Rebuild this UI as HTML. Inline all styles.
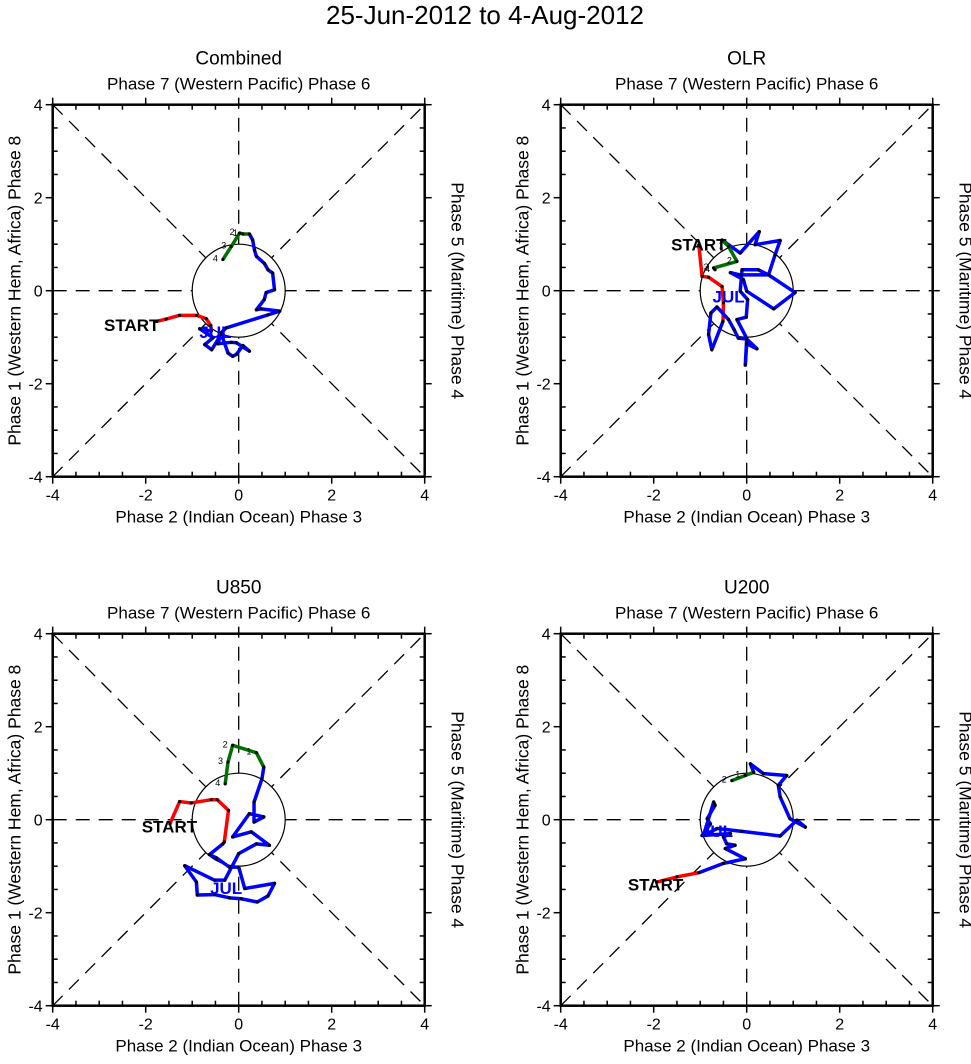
<!DOCTYPE html>
<html><head><meta charset="utf-8"><style>
body{margin:0;background:#fff;}
svg text{font-family:"Liberation Sans",Arial,sans-serif;}
</style></head><body>
<svg id="chart" width="971" height="1059" viewBox="0 0 971 1059" xmlns="http://www.w3.org/2000/svg">
<text x="485" y="24" font-size="26" text-anchor="middle">25-Jun-2012 to 4-Aug-2012</text>
</svg>
<script>
const panelTitles = ["Combined","OLR","U850","U200"];
const tickLabels = ["-4","-2","0","2","4"];
const tickValues = [-4,-2,0,2,4];
// Combined
const combRed = [[-1.77,-0.66],[-1.56,-0.61],[-1.27,-0.53],[-0.91,-0.53],[-0.70,-0.60],[-0.60,-0.75],[-0.59,-0.87]];
const combBlue = [[-0.59,-0.87],[-0.84,-0.82],[-0.55,-1.01],[-0.73,-1.16],[-0.58,-1.27],[-0.38,-0.94],[-0.45,-1.14],[-0.16,-1.11],[-0.05,-1.12],[0.23,-1.30],[0.09,-1.18],[-0.05,-1.37],[-0.13,-1.41],[-0.23,-1.34],[-0.38,-0.91],[-0.27,-0.80],[0.63,-0.52],[0.88,-0.44],[0.48,-0.39],[0.38,-0.41],[0.55,-0.19],[0.59,-0.04],[0.77,0.02],[0.73,0.38],[0.63,0.45],[0.55,0.59],[0.38,0.74],[0.34,0.87],[0.30,1.09],[0.23,1.22]];
const combGreen = [[0.23,1.22],[0.09,1.22],[0.02,1.24],[-0.16,0.95],[-0.34,0.67]];
// OLR
const olrRed = [[-1.03,0.99],[-0.96,0.31],[-0.82,0.29],[-0.53,0.09],[-0.50,-0.26],[-0.51,-0.66]];
const olrBlue = [[-0.51,-0.66],[-0.75,-1.27],[-0.82,-0.94],[-0.77,-0.48],[-0.64,-0.35],[-0.39,-0.62],[-0.27,-0.84],[-0.18,-1.02],[0.00,-1.04],[0.22,-1.25],[0.00,-1.14],[-0.03,-1.60],[0.00,-1.02],[-0.21,-0.62],[-0.01,-0.57],[0.02,-0.19],[-0.14,-0.01],[-0.10,0.45],[0.25,0.45],[0.47,0.34],[1.04,-0.04],[0.58,-0.39],[0.00,-0.01],[-0.07,0.24],[-0.35,0.39],[-0.14,0.34],[0.47,0.34],[0.61,0.77],[0.72,1.08],[0.18,0.99],[0.27,1.27],[-0.14,0.81],[-0.53,1.09]];
const olrGreen = [[-0.53,1.09],[-0.39,0.95],[-0.21,0.63],[-0.71,0.49],[-0.68,0.45]];
// U850
const u850Red = [[-1.48,-0.09],[-1.27,0.39],[-1.02,0.36],[-0.59,0.43],[-0.46,0.43],[-0.22,0.20],[-0.31,-0.48],[-0.34,-0.52]];
const u850Blue = [[-0.34,-0.52],[-0.63,-0.75],[-0.48,-0.82],[-0.20,-1.02],[0.00,-1.02],[0.13,-1.48],[0.77,-1.37],[0.63,-1.64],[0.40,-1.77],[0.05,-1.70],[-0.20,-1.68],[-0.52,-1.61],[-0.89,-1.62],[-0.91,-1.34],[-1.16,-0.99],[-0.52,-1.30],[-0.30,-1.30],[0.00,-0.73],[0.38,-0.52],[0.66,-0.55],[0.27,-0.26],[-0.13,-0.37],[0.23,0.13],[0.54,0.06],[0.33,-0.05],[0.33,0.38],[0.50,0.88],[0.54,1.13]];
const u850Green = [[0.54,1.13],[0.38,1.44],[-0.13,1.60],[-0.23,1.24],[-0.29,0.77]];
// U200
const u200Red = [[-1.93,-1.34],[-1.50,-1.23],[-1.03,-1.14]];
const u200Blue = [[-1.03,-1.14],[-0.50,-0.94],[-0.03,-0.84],[-0.46,-0.62],[-0.25,-0.55],[-0.43,-0.52],[-0.50,-0.37],[-0.35,-0.30],[-0.96,-0.34],[-0.78,-0.09],[-0.85,0.02],[-0.68,0.31],[-0.71,0.38],[-0.93,-0.34],[-0.64,-0.19],[-0.10,-0.25],[0.72,-0.35],[1.08,-0.01],[1.26,-0.16],[0.93,0.02],[0.72,0.49],[0.68,0.74],[0.86,0.95],[0.36,0.99],[0.08,1.20],[0.15,1.02]];
const u200Green = [[0.15,1.02],[-0.03,0.95],[-0.32,0.84]];
const startPos = [[-2.3,-0.72],[-1.03,1.02],[-1.49,-0.12],[-1.96,-1.37]];
const julPos = [[-0.5,-0.87],[-0.39,-0.1],[-0.27,-1.45],[-0.64,-0.22]];

const series = [[combRed,combBlue,combGreen],[olrRed,olrBlue,olrGreen],[u850Red,u850Blue,u850Green],[u200Red,u200Blue,u200Green]];
const origins = [[52.7,104.7],[560.7,104.7],[52.7,633.7],[560.7,633.7]];
const W = 372, S = W/8;
const svg = document.getElementById('chart');
const NS = "http://www.w3.org/2000/svg";
function mk(tag, attrs, parent){const e=document.createElementNS(NS,tag);for(const k in attrs)e.setAttribute(k,attrs[k]);(parent||svg).appendChild(e);return e;}

series.forEach((ser, p) => {
  const [ox, oy] = origins[p];
  const sx = v => ox + (v + 4) * S;
  const sy = v => oy + (4 - v) * S;
  const g = mk('g', {});
  
  
  const t = mk('text', {x: ox + W/2, y: oy - 40, 'font-size': 19, 'text-anchor': 'middle'}, g);
  t.textContent = panelTitles[p];
  
  
  const t2 = mk('text', {x: ox + W/2, y: oy - 15, 'font-size': 17, 'text-anchor': 'middle'}, g);
  t2.textContent = 'Phase 7 (Western Pacific) Phase 6';
  
  
  const t3 = mk('text', {x: ox + W/2, y: oy + W + 46, 'font-size': 17, 'text-anchor': 'middle'}, g);
  t3.textContent = 'Phase 2 (Indian Ocean) Phase 3';
  
  
  const t4 = mk('text', {x: 0, y: 0, 'font-size': 17.5, 'text-anchor': 'middle', transform: `translate(${ox-32},${oy+W/2}) rotate(-90)`}, g);
  t4.textContent = 'Phase 1 (Western Hem, Africa) Phase 8';
  
  
  const t5 = mk('text', {x: 0, y: 0, 'font-size': 17.5, 'text-anchor': 'middle', transform: `translate(${ox+W+27},${oy+W/2}) rotate(90)`}, g);
  t5.textContent = 'Phase 5 (Maritime) Phase 4';
  
  
  const dash = {stroke: '#000', 'stroke-width': 1.3, 'stroke-dasharray': '14,9', fill: 'none'};
  [[-4,-4,4,4],[-4,4,4,-4],[-4,0,4,0],[0,-4,0,4]].forEach(l => {
    const ln = mk('line', Object.assign({x1: sx(l[0]), y1: sy(l[1]), x2: sx(l[2]), y2: sy(l[3])}, dash), g);
    
    
  });
  const c = mk('circle', {cx: sx(0), cy: sy(0), r: S, fill: '#fff', stroke: '#000', 'stroke-width': 1.2}, g);
  
  
  const fr = mk('rect', {x: ox, y: oy, width: W, height: W, fill: 'none', stroke: '#000', 'stroke-width': 2.5}, g);
  
  
  for (let v = -4; v <= 4; v += 0.5) {
    const major = Number.isInteger(v / 2);
    const L = major ? 7 : 5, d = major ? 1 : -1;
    const attrs = {stroke: '#000', 'stroke-width': 1.5};
    mk('line', Object.assign({x1: sx(v), y1: oy + W, x2: sx(v), y2: oy + W + d*L}, attrs), g);
    mk('line', Object.assign({x1: sx(v), y1: oy, x2: sx(v), y2: oy - d*L}, attrs), g);
    mk('line', Object.assign({x1: ox, y1: sy(v), x2: ox - d*L, y2: sy(v)}, attrs), g);
    mk('line', Object.assign({x1: ox + W, y1: sy(v), x2: ox + W + d*L, y2: sy(v)}, attrs), g);
  }
  tickValues.forEach((v, i) => {
    const a = mk('text', {x: sx(v), y: oy + W + 24, 'font-size': 16, 'text-anchor': 'middle'}, g);
    a.textContent = tickLabels[i];
    
    
    const b = mk('text', {x: ox - 10, y: sy(v) + 6, 'font-size': 16, 'text-anchor': 'end'}, g);
    b.textContent = tickLabels[i];
    
    
  });
  const colors = ['#ff0000', '#0000ff', '#007000'];
  const names = ['june-track', 'july-track', 'august-track'];
  ser.forEach((pts, k) => {
    const pl = mk('polyline', {points: pts.map(q => sx(q[0]) + ',' + sy(q[1])).join(' '), fill: 'none', stroke: colors[k], 'stroke-width': 3.5, 'stroke-linejoin': 'round'}, g);
    
    
    pts.forEach((q, j) => {
      const dt = mk('circle', {cx: sx(q[0]), cy: sy(q[1]), r: 1.6, fill: '#000'}, g);
      
      
    });
  });
  ser[2].forEach((q, j) => {
    if (j === 0) return;
    const lb = mk('text', {x: sx(q[0]) - 5, y: sy(q[1]) + 2, 'font-size': 9, 'text-anchor': 'end'}, g);
    lb.textContent = String(j);
    
    
  });
  const st = startPos[p];
  const s = mk('text', {x: sx(st[0]), y: sy(st[1]) + 7, 'font-size': 17, 'font-weight': 'bold', 'text-anchor': 'middle'}, g);
  s.textContent = 'START';
  
  
  const j0 = julPos[p];
  const jl = mk('text', {x: sx(j0[0]), y: sy(j0[1]) + 7, 'font-size': 17, 'font-weight': 'bold', fill: '#0000ff', 'text-anchor': 'middle'}, g);
  jl.textContent = 'JUL';
  
  
});
</script>
</body></html>
